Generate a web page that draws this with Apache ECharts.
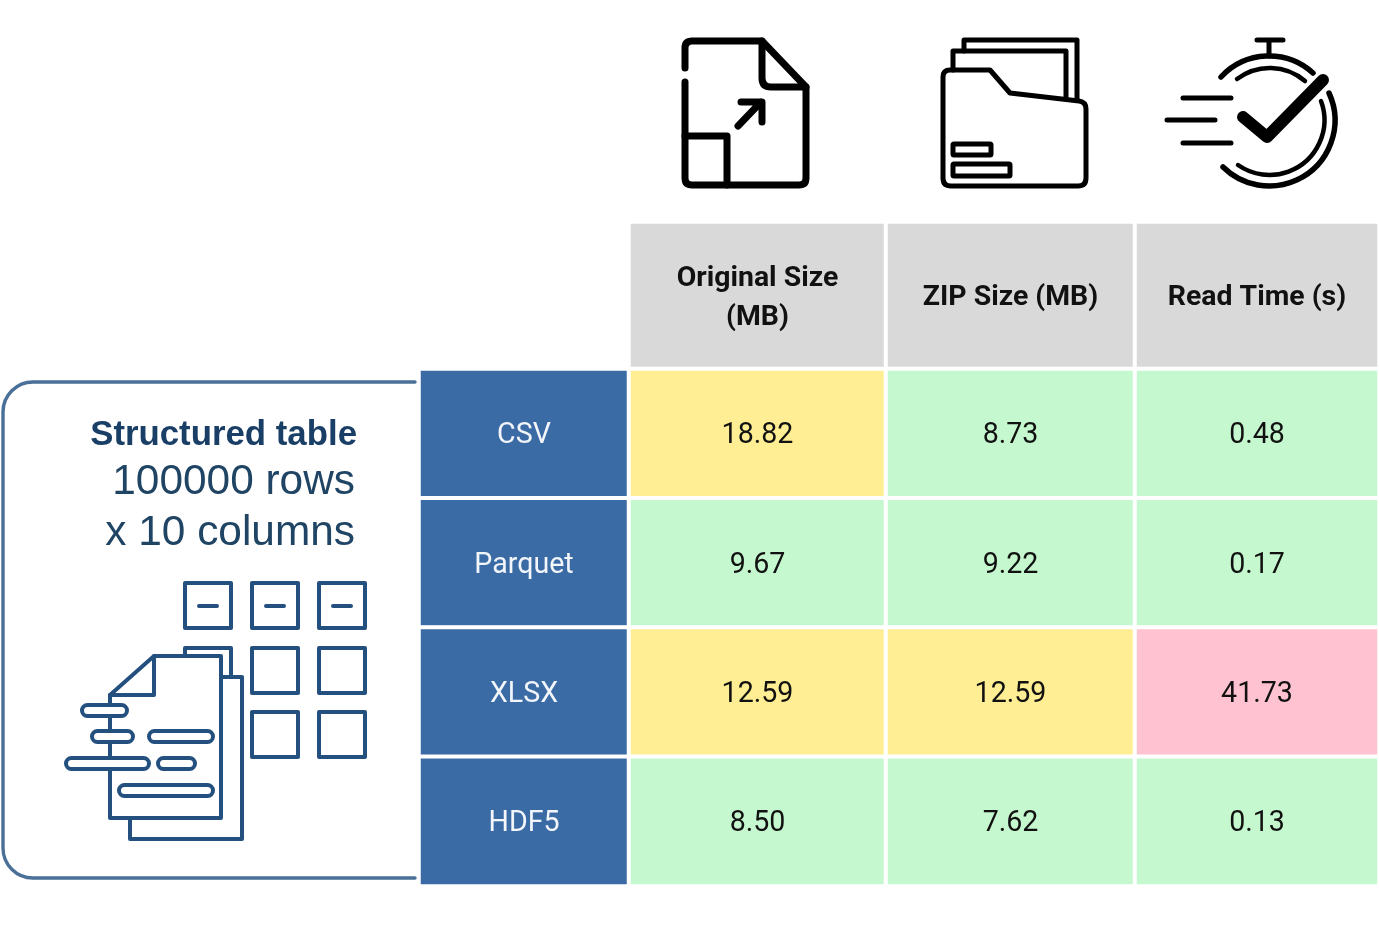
<!DOCTYPE html>
<html>
<head>
<meta charset="utf-8">
<title>File format comparison</title>
<script src="https://cdn.jsdelivr.net/npm/echarts@6/dist/echarts.min.js"></script>
<style>
  html, body { margin: 0; padding: 0; background: #fff; }
  #chart { width: 1379px; height: 926px; }
</style>
</head>
<body>
<div id="chart"></div>
<script>
// table data
var formats = ['CSV', 'Parquet', 'XLSX', 'HDF5'];
var columnHeaders = ['Original Size\n(MB)', 'ZIP Size (MB)', 'Read Time (s)'];
var originalSize = [18.82, 9.67, 12.59, 8.50];
var zipSize = [8.73, 9.22, 12.59, 7.62];
var readTime = [0.48, 0.17, 41.73, 0.13];
var panelTitle = 'Structured table';
var panelLines = ['100000 rows', 'x 10 columns'];

var BLUE = '#3a6ba5', GREY = '#d9d9d9', GREEN = '#c5f8ce', YELLOW = '#ffee93', PINK = '#ffc2d1';
var INK = '#24507f', PANEL = '#4a7098';

// cell colour by value
function cellColor(v) {
  if (v < 10) return GREEN;
  if (v < 20) return YELLOW;
  return PINK;
}

var bodyTop = 369, bodyHeight = 517, headTop = 222, headHeight = 147;
var colBounds = [[419, 629], [629, 886], [886, 1135], [1135, 1379]];

var grids = [], xAxes = [], yAxes = [], series = [];

function addColumn(bounds, top, height, rows, data, fontSize, fontWeight, color, formatter) {
  var idx = grids.length;
  grids.push({ left: bounds[0], width: bounds[1] - bounds[0], top: top, height: height });
  xAxes.push({ type: 'category', gridIndex: idx, data: ['c'], show: false });
  yAxes.push({ type: 'category', gridIndex: idx, data: rows, inverse: true, show: false });
  series.push({
    type: 'heatmap',
    xAxisIndex: idx,
    yAxisIndex: idx,
    silent: true,
    data: data,
    itemStyle: { borderColor: '#fff', borderWidth: 4 },
    label: {
      show: true,
      fontFamily: 'Roboto',
      fontSize: fontSize,
      fontWeight: fontWeight,
      lineHeight: 39,
      color: color,
      offset: [0, 2.5],
      formatter: formatter
    },
    emphasis: { disabled: true }
  });
}

// first column: format names
addColumn(colBounds[0], bodyTop, bodyHeight, formats, formats.map(function (f, i) {
  return { value: [0, i, 0], itemStyle: { color: BLUE } };
}), 28.6, 'normal', '#f2f5f9', function (p) { return formats[p.value[1]]; });

// value columns and their headers
[originalSize, zipSize, readTime].forEach(function (values, c) {
  addColumn(colBounds[c + 1], headTop, headHeight, ['h'], [{ value: [0, 0, 0], itemStyle: { color: GREY } }],
    28.4, 'bold', '#111', function () { return columnHeaders[c]; });
  addColumn(colBounds[c + 1], bodyTop, bodyHeight, formats, values.map(function (v, i) {
    return { value: [0, i, v], itemStyle: { color: cellColor(v) } };
  }), 28.6, 'normal', '#111', function (p) { return p.value[2].toFixed(2); });
});

// line-art helpers for the icons
function stroke(d, color, width) {
  return {
    type: 'path',
    shape: { pathData: d },
    style: { fill: 'none', stroke: color, lineWidth: width, lineCap: 'round', lineJoin: 'round' }
  };
}
function box(x, y, w, h, r, color, width) {
  return {
    type: 'rect',
    shape: { x: x, y: y, width: w, height: h, r: r },
    style: { fill: '#fff', stroke: color, lineWidth: width, lineJoin: 'round' }
  };
}
function label(text, x, y, size, weight, color) {
  return {
    type: 'text', x: x, y: y,
    style: { text: text, fill: color, align: 'right', verticalAlign: 'middle',
      fontFamily: '"Liberation Sans", Arial', fontSize: size, fontWeight: weight }
  };
}

var graphics = [
  // file icon
  stroke('M685 68 L685 48 Q685 41 692 41 L762 41 L806 87 L806 178 Q806 185 799 185 L692 185 Q685 185 685 178 L685 82', '#000', 7),
  stroke('M762 41 L762 78 Q762 87 771 87 L806 87', '#000', 7),
  stroke('M738 126 L761 102 M741 102 L762 102 L762 122', '#000', 7),
  stroke('M685 136 L727 136 L727 185', '#000', 7),
  // folder icon
  stroke('M964 51 L964 40 L1077 40 L1077 100', '#000', 5),
  stroke('M953 70 L953 51 L1066 51 L1066 97', '#000', 5),
  stroke('M950 70 L990 70 L1010 93 L1079 101 Q1086 102 1086 109 L1086 178 Q1086 186 1078 186 L951 186 Q943 186 943 178 L943 77 Q943 70 950 70 Z', '#000', 5),
  box(953, 144, 38, 11, 1, '#000', 5),
  box(953, 164, 57, 12, 1, '#000', 5),
  // stopwatch icon
  stroke('M1221 77 A65.5 65.5 0 0 1 1313 73', '#000', 5.5),
  stroke('M1329 93 A65.7 65.7 0 0 1 1223 167', '#000', 5.5),
  stroke('M1237 79 A54 54 0 0 1 1305 81', '#000', 4.5),
  stroke('M1321 101 A54.9 54.9 0 0 1 1238 165', '#000', 4.5),
  stroke('M1269 56 L1269 40 M1257 40 L1283 40', '#000', 5),
  stroke('M1243 117 L1267 137 L1323 80', '#000', 12),
  stroke('M1183 98 L1231 98 M1167 120 L1215 120 M1183 143 L1231 143', '#000', 5),
  // left panel
  stroke('M415 382 L33 382 A30 30 0 0 0 3 412 L3 848 A30 30 0 0 0 33 878 L415 878', PANEL, 3.4),
  label(panelTitle, 357, 435, 34.8, 'bold', '#1a3f66'),
  label(panelLines[0], 355, 482, 42.4, 'normal', '#1f4464'),
  label(panelLines[1], 355, 533, 42.4, 'normal', '#1f4464')
];

// grid of small cells behind the document
[[185, 583], [252, 583], [319, 583], [252, 648], [319, 648], [252, 712], [319, 712]].forEach(function (p) {
  graphics.push(box(p[0], p[1], 46, 45, 0, INK, 4));
});
graphics.push(stroke('M199 606 L217 606 M266 606 L284 606 M333 606 L351 606', INK, 4));
graphics.push(stroke('M185 656 L185 648 L231 648 L231 677', INK, 4));
// documents
graphics.push(stroke('M223 677 L242 677 L242 839 L130 839 L130 820', INK, 4));
graphics.push(stroke('M110 695 L154 656 L221 656 L221 818 L110 818 Z', INK, 4));
graphics.push(stroke('M154 656 L154 695 L110 695', INK, 4));
// pills over the document edge
[[82, 705, 45], [92, 731, 41], [149, 731, 64], [66, 758, 83], [158, 758, 37], [119, 785, 94]].forEach(function (p) {
  graphics.push(box(p[0], p[1], p[2], 11, 5.5, INK, 4));
});

// icons and panel go through one custom series, it accepts svg path data
series.push({
  type: 'custom',
  coordinateSystem: 'none',
  silent: true,
  data: [0],
  renderItem: function () {
    return { type: 'group', children: graphics };
  }
});

var chart = echarts.init(document.getElementById('chart'), null, { renderer: 'canvas' });
chart.setOption({
  animation: false,
  backgroundColor: '#fff',
  tooltip: { show: false },
  grid: grids,
  xAxis: xAxes,
  yAxis: yAxes,
  series: series
});
</script>
</body>
</html>
